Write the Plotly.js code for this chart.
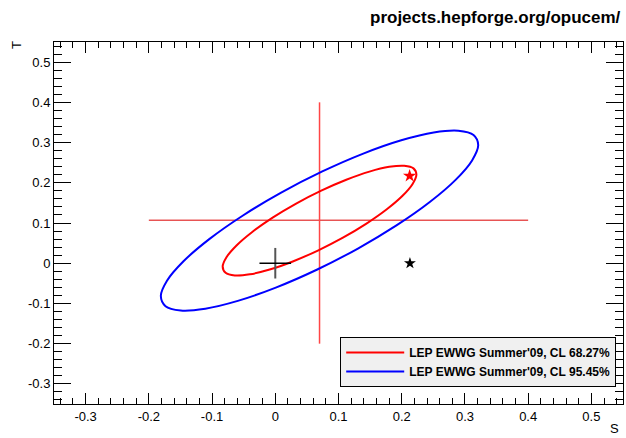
<!DOCTYPE html>
<html>
<head>
<meta charset="utf-8">
<script src="https://cdn.plot.ly/plotly-3.0.1.min.js"></script>
<style>
  html, body { margin: 0; padding: 0; background: #fff; }
  #chart { width: 626px; height: 438px; }
</style>
</head>
<body>
<div id="chart"></div>
<script>
// ---- data ----
const seriesNames = ["LEP EWWG Summer'09, CL 68.27%", "LEP EWWG Summer'09, CL 95.45%"];

// 68.27% CL contour (S, T), starting mid long side
const red68S = [0.0330, -0.0042, -0.0364, -0.0613, -0.0772, -0.0832, -0.0786, -0.0640, -0.0402, -0.0089, 0.0277, 0.0673,
                0.1070, 0.1442, 0.1764, 0.2013, 0.2172, 0.2232, 0.2186, 0.2040, 0.1802, 0.1489, 0.1123, 0.0727, 0.0330];
const red68T = [0.1484, 0.1134, 0.0778, 0.0442, 0.0148, -0.0084, -0.0238, -0.0303, -0.0276, -0.0158, 0.0044, 0.0315,
                0.0636, 0.0986, 0.1342, 0.1678, 0.1972, 0.2204, 0.2358, 0.2423, 0.2396, 0.2278, 0.2076, 0.1805, 0.1484];

// 95.45% CL contour (S, T)
const blue95S = [0.0093, -0.0517, -0.1044, -0.1452, -0.1713, -0.1810, -0.1736, -0.1496, -0.1106, -0.0593, 0.0008, 0.0656,
                 0.1307, 0.1917, 0.2444, 0.2852, 0.3113, 0.3210, 0.3136, 0.2896, 0.2506, 0.1993, 0.1392, 0.0744, 0.0093];
const blue95T = [0.1755, 0.1181, 0.0599, 0.0048, -0.0436, -0.0815, -0.1067, -0.1174, -0.1130, -0.0936, -0.0606, -0.0162,
                 0.0365, 0.0939, 0.1521, 0.2072, 0.2556, 0.2935, 0.3187, 0.3294, 0.3250, 0.3056, 0.2726, 0.2282, 0.1755];

// central value error bars (red cross)
const errHS = [-0.20, 0.40];  const errHT = [0.107, 0.107];
const errVS = [0.07, 0.07];   const errVT = [-0.20, 0.40];

// reference point cross (black)
const refHS = [-0.025, 0.025]; const refHT = [0, 0];
const refVS = [0, 0];          const refVT = [-0.038, 0.038];

// stars
const redStarS = [0.2125]; const redStarT = [0.217];
const blkStarS = [0.213];  const blkStarT = [0.0];

const xTicks = [-0.3, -0.2, -0.1, 0, 0.1, 0.2, 0.3, 0.4, 0.5];
const xTickText = ["-0.3", "-0.2", "-0.1", "0", "0.1", "0.2", "0.3", "0.4", "0.5"];
const yTicks = [-0.3, -0.2, -0.1, 0, 0.1, 0.2, 0.3, 0.4, 0.5];
const yTickText = ["-0.3", "-0.2", "-0.1", "0", "0.1", "0.2", "0.3", "0.4", "0.5"];

const FONT = "Liberation Sans, Arial, Helvetica, sans-serif";

const traces = [
  {x: errHS, y: errHT, mode: 'lines', line: {color: 'rgb(220,0,0)', width: 1}, showlegend: false, hoverinfo: 'skip'},
  {x: errVS, y: errVT, mode: 'lines', line: {color: 'rgb(255,70,70)', width: 1.5}, showlegend: false, hoverinfo: 'skip'},
  {x: red68S, y: red68T, mode: 'lines', name: seriesNames[0], line: {color: 'rgb(255,0,0)', width: 2, shape: 'spline', smoothing: 1}},
  {x: blue95S, y: blue95T, mode: 'lines', name: seriesNames[1], line: {color: 'rgb(0,0,255)', width: 2, shape: 'spline', smoothing: 1}},
  {x: refVS, y: refVT, mode: 'lines', line: {color: 'rgb(85,85,85)', width: 2}, showlegend: false, hoverinfo: 'skip'},
  {x: refHS, y: refHT, mode: 'lines', line: {color: 'rgb(0,0,0)', width: 1.5}, showlegend: false, hoverinfo: 'skip'},
  {x: redStarS, y: redStarT, mode: 'markers', marker: {symbol: 'star', size: 10, color: 'rgb(255,0,0)'}, showlegend: false},
  {x: blkStarS, y: blkStarT, mode: 'markers', marker: {symbol: 'star', size: 9, color: 'rgb(0,0,0)'}, showlegend: false}
];

const axisCommon = {
  showgrid: false, zeroline: false, showline: true, linecolor: '#000', linewidth: 1,
  mirror: 'allticks', ticks: 'inside', tickcolor: '#000', tickwidth: 1,
  tickfont: {family: FONT, size: 13, color: '#000'}
};

const layout = {
  width: 626, height: 438,
  margin: {l: 54, r: 3, t: 42, b: 34, pad: 0},
  paper_bgcolor: '#fff', plot_bgcolor: '#fff',
  xaxis: Object.assign({}, axisCommon, {
    range: [-0.35, 0.55], tickvals: xTicks, ticktext: xTickText, ticklen: 11,
    minor: {dtick: 0.02, tick0: 0, ticks: 'inside', ticklen: 6, tickcolor: '#000', tickwidth: 1}
  }),
  yaxis: Object.assign({}, axisCommon, {
    range: [-0.35, 0.55], tickvals: yTicks, ticktext: yTickText, ticklen: 17,
    minor: {dtick: 0.02, tick0: 0, ticks: 'inside', ticklen: 8, tickcolor: '#000', tickwidth: 1}
  }),
  showlegend: true,
  legend: {
    x: 0.503, y: 0.185, xanchor: 'left', yanchor: 'top',
    bgcolor: '#f0f0f0', bordercolor: '#000', borderwidth: 1,
    font: {family: FONT, size: 12, color: '#000', weight: 'bold'},
    itemwidth: 58, tracegroupgap: 0
  },
  annotations: [
    {text: 'projects.hepforge.org/opucem/', xref: 'paper', yref: 'paper', x: 1.0, y: 1, yshift: 25,
     xanchor: 'right', yanchor: 'middle', showarrow: false,
     font: {family: FONT, size: 17, color: '#000', weight: 'bold'}},
    {text: 'T', xref: 'paper', yref: 'paper', x: 0, y: 1, xshift: -38, yshift: -3,
     xanchor: 'center', yanchor: 'middle', textangle: -90, showarrow: false,
     font: {family: FONT, size: 13, color: '#000'}},
    {text: 'S', xref: 'paper', yref: 'paper', x: 1, y: 0, xshift: -9, yshift: -24,
     xanchor: 'center', yanchor: 'middle', showarrow: false,
     font: {family: FONT, size: 13, color: '#000'}}
  ]
};

Plotly.newPlot('chart', traces, layout, {displayModeBar: false, staticPlot: true});
</script>
</body>
</html>
